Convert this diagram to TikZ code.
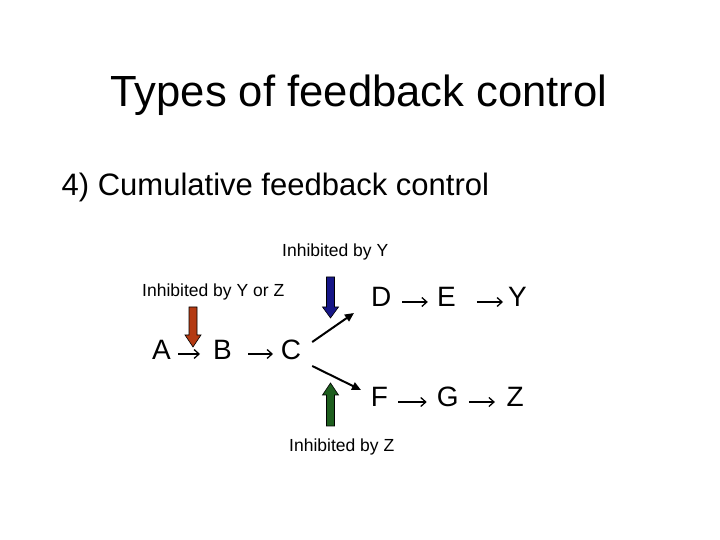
\documentclass[tikz,border=0pt]{standalone}
\usepackage{fontspec}
\setmainfont{Liberation Sans}
\usetikzlibrary{arrows.meta,calc}
\definecolor{redarrow}{RGB}{180,58,18}
\definecolor{bluearrow}{RGB}{22,22,135}
\definecolor{greenarrow}{RGB}{30,94,30}
\tikzset{
  letter/.style={anchor=base west,inner sep=0pt,font=\fontsize{28}{32}\selectfont},
  lbl/.style={anchor=base west,inner sep=0pt,font=\fontsize{17.5}{20}\selectfont},
  txtarrow/.style={line width=1.3pt,-{Straight Barb[length=5pt,width=9pt]}},
  diagarrow/.style={line width=2pt,-{Triangle[length=9pt,width=8pt]}},
  blockarrow/.style={draw=black,line width=0.6pt}
}
\begin{document}
\begin{tikzpicture}[x=1pt,y=1pt]
\useasboundingbox (0,0) rectangle (720,540);
\fill[white] (0,0) rectangle (720,540);
% titles
\node[anchor=base,inner sep=0pt,font=\fontsize{43.6}{50}\selectfont] (title) at (359,433) {Types of feedback control};
\node[anchor=base west,inner sep=0pt,font=\fontsize{31}{36}\selectfont] (sub) at (61.5,344) {4) Cumulative feedback control};
% labels
\node[lbl] (lY) at (282,283) {Inhibited by Y};
\node[lbl] (lYZ) at (142,243) {Inhibited by Y or Z};
\node[lbl] (lZ) at (289,88) {Inhibited by Z};
% letters
\node[letter] (A) at (152,180) {A};
\node[letter] (B) at (213,180) {B};
\node[letter] (C) at (280.6,180) {C};
\node[letter] (D) at (370.8,233) {D};
\node[letter] (E) at (436.8,233) {E};
\node[letter] (Y) at (508,233) {Y};
\node[letter] (F) at (370.7,133) {F};
\node[letter] (G) at (436.7,133) {G};
\node[letter] (Z) at (506.4,133) {Z};
% text arrows
\draw[txtarrow] ($(A.base east)+(7.3,6)$) -- ($(B.base west)+(-13,6)$);
\draw[txtarrow] ($(B.base east)+(16.3,6)$) -- ($(C.base west)+(-7.6,6)$);
\draw[txtarrow] ($(D.base east)+(11,5)$) -- ($(E.base west)+(-9,5)$);
\draw[txtarrow] ($(E.base east)+(21,5)$) -- ($(Y.base west)+(-5,5)$);
\draw[txtarrow] ($(F.base east)+(10,5)$) -- ($(G.base west)+(-10,5)$);
\draw[txtarrow] ($(G.base east)+(10,5)$) -- ($(Z.base west)+(-11.5,5)$);
% diagonal arrows
\draw[diagarrow] ($(C.base east)+(11,18)$) -- ($(D.base west)+(-16.8,-6)$);
\draw[diagarrow] ($(C.base east)+(11,-6)$) -- ($(F.base west)+(-9.7,17)$);
% block arrows
\draw[blockarrow,fill=redarrow] (189,233) -- (197,233) -- (197,205) -- (201,205) -- (193,193) -- (185,205) -- (189,205) -- cycle;
\draw[blockarrow,fill=bluearrow] (326.5,263) -- (334.5,263) -- (334.5,233) -- (338.5,233) -- (330.5,222) -- (322.5,233) -- (326.5,233) -- cycle;
\draw[blockarrow,fill=greenarrow] (326.5,114) -- (334.5,114) -- (334.5,145) -- (338.5,145) -- (330.5,157) -- (322.5,145) -- (326.5,145) -- cycle;
\end{tikzpicture}
\end{document}
